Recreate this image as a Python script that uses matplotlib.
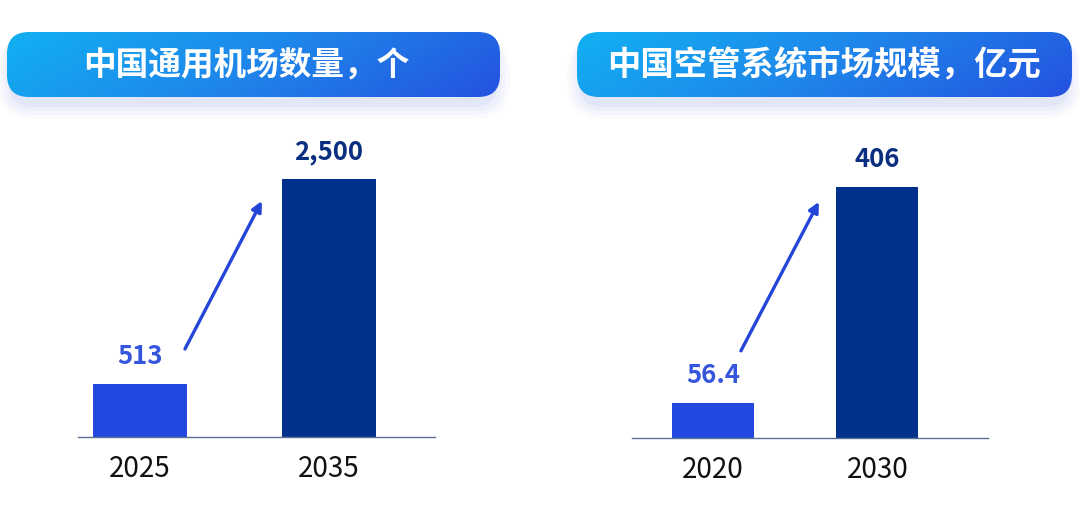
import numpy as np
import matplotlib.pyplot as plt
from matplotlib.patches import FancyBboxPatch
from matplotlib.colors import LinearSegmentedColormap

plt.rcParams['font.family'] = ['Noto Sans CJK SC', 'DejaVu Sans']

# data
airport_years = ["2025", "2035"]
airport_counts = [513, 2500]
airport_labels = ["513", "2,500"]
airport_title = "中国通用机场数量，个"

atc_years = ["2020", "2030"]
atc_market = [56.4, 406]
atc_labels = ["56.4", "406"]
atc_title = "中国空管系统市场规模，亿元"

LIGHT = "#2348e0"
DARK = "#01318a"
LIGHT_TXT = "#3556dc"
DARK_TXT = "#0b2f80"
ARROW = "#2446d8"

W, H = 1080, 515
fig = plt.figure(figsize=(W / 100, H / 100), dpi=100)

# background layer in pixel coordinates for the title pills
bg = fig.add_axes([0, 0, 1, 1])
bg.set_xlim(0, W)
bg.set_ylim(H, 0)
bg.axis("off")

grad_cmap = LinearSegmentedColormap.from_list("pill", ["#12b0f2", "#1f86ea", "#2452e0"])


def title_pill(x0, x1, y0, y1, text, size, dx=0):
    # soft shadow, mostly below the pill
    for i, a in enumerate([0.05, 0.04, 0.03, 0.02]):
        pad = 2 + i * 4
        sh = FancyBboxPatch((x0 - pad + 4, y0 + 4), x1 - x0 + 2 * pad - 8, y1 - y0 + pad + 4,
                            boxstyle="round,pad=0,rounding_size=%d" % (22 + pad),
                            facecolor="#3a5ad8", edgecolor="none", alpha=a, zorder=1)
        bg.add_patch(sh)
    box = FancyBboxPatch((x0, y0), x1 - x0, y1 - y0,
                         boxstyle="round,pad=0,rounding_size=22",
                         facecolor="none", edgecolor="none", zorder=2)
    bg.add_patch(box)
    gx = np.linspace(0, 1, 300)
    gy = np.linspace(0, 1, 60)
    gxx, gyy = np.meshgrid(gx, gy)
    g = 0.82 * gxx + 0.18 * gyy
    im = bg.imshow(g, cmap=grad_cmap, extent=(x0, x1, y1, y0), origin="upper",
                   aspect="auto", zorder=3, interpolation="bilinear")
    im.set_clip_path(box)
    bg.text((x0 + x1) / 2 + dx, (y0 + y1) / 2 + 1, text, color="white", fontsize=size,
            fontweight="bold", ha="center", va="center", zorder=4)
    bg.set_xlim(0, W)
    bg.set_ylim(H, 0)


title_pill(7, 500, 32, 97, airport_title, 23.5, dx=-7)
title_pill(577, 1072, 32, 97, atc_title, 24)


def bar_panel(rect, xlim, ylim, years, values, labels, width, arrow_from, arrow_to):
    ax = fig.add_axes(rect)
    ax.patch.set_alpha(0)
    x = np.arange(len(values))
    ax.bar(x, values, width=width, color=[LIGHT, DARK], zorder=2)
    ax.set_xlim(*xlim)
    ax.set_ylim(*ylim)
    for s in ["top", "right", "left"]:
        ax.spines[s].set_visible(False)
    ax.spines["bottom"].set_color("#5b7191")
    ax.spines["bottom"].set_linewidth(1.0)
    ax.set_yticks([])
    ax.set_xticks(x)
    ax.set_xticklabels(years, fontsize=20, color="#111111")
    ax.tick_params(axis="x", length=0, pad=12)
    for xi, v, lab, c in zip(x, values, labels, [LIGHT_TXT, DARK_TXT]):
        ax.annotate(lab, (xi, v), xytext=(0, 10), textcoords="offset points",
                    ha="center", va="bottom", fontsize=18.5, fontweight="bold", color=c)
    ax.annotate("", xy=arrow_to, xytext=arrow_from,
                arrowprops=dict(arrowstyle="-|>,head_length=0.6,head_width=0.3",
                                color=ARROW, lw=2.4, shrinkA=0, shrinkB=0))
    return ax


# left: axes from x 78..435 px, baseline at y 437 px
bar_panel([78 / W, (H - 437) / H, 357 / W, 297 / H],
          (-0.328, 1.561), (0, 2500 * 297 / 258),
          airport_years, airport_counts, airport_labels, 0.497,
          (0.238, 853), (0.645, 2287))

# right: axes from x 632..988 px, baseline at y 438 px
bar_panel([632 / W, (H - 438) / H, 356 / W, 298 / H],
          (-0.492, 1.672), (0, 406 * 298 / 251),
          atc_years, atc_market, atc_labels, 0.498,
          (0.170, 141), (0.644, 382))

fig.savefig("out.png", dpi=100, facecolor="white")
